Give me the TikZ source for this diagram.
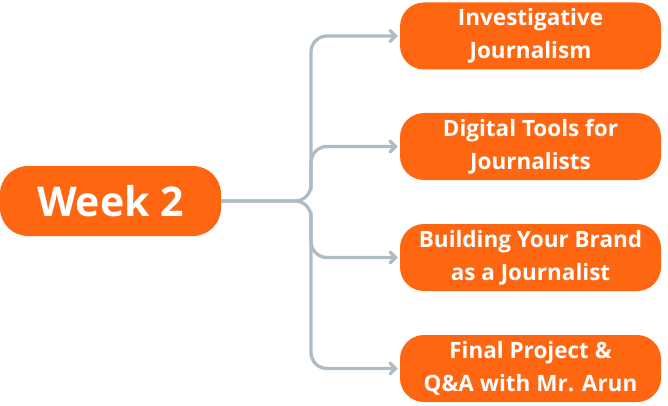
\documentclass[tikz,border=0pt]{standalone}
\usepackage{fontspec}
\setmainfont{Open Sans}
\usetikzlibrary{arrows.meta}
\definecolor{orng}{HTML}{FF6612}
\definecolor{lgray}{HTML}{B0BCC4}
\tikzset{
  topicbox/.style={fill=orng, rounded corners=24pt, minimum width=261pt, minimum height=67pt, inner sep=0pt,
    text=white, align=center, font=\bfseries\fontsize{22.5}{33}\selectfont},
  weekbox/.style={fill=orng, rounded corners=28pt, minimum width=221pt, minimum height=70pt, inner sep=0pt,
    text=white, font=\bfseries\fontsize{41}{48}\selectfont},
  link/.style={draw=lgray, line width=3.3pt, rounded corners=16pt},
  tip/.style={-{Straight Barb[length=5.5pt,width=11pt,line cap=round]}, shorten >=2pt}
}
\begin{document}
\begin{tikzpicture}[x=1pt,y=-1pt]
\useasboundingbox (0,0) rectangle (668,406);
\node[weekbox] (w) at (110.5,201) {Week 2};
\node[topicbox] (t1) at (530.5,36) {Investigative\\Journalism};
\node[topicbox] (t2) at (530.5,146.5) {Digital Tools for\\Journalists};
\node[topicbox] (t3) at (530.5,257.5) {Building Your Brand\\as a Journalist};
\node[topicbox] (t4) at (530.5,368.5) {Final Project \&\\Q\&A with Mr. Arun};
\coordinate (j) at (311,201);
\draw[link,tip] (w.east) -- (j) |- (t1.west);
\draw[link,tip] (w.east) -- (j) |- (t4.west);
\draw[link,tip] (311,190) |- (t2.west);
\draw[link,tip] (311,212) |- (t3.west);
\end{tikzpicture}
\end{document}
